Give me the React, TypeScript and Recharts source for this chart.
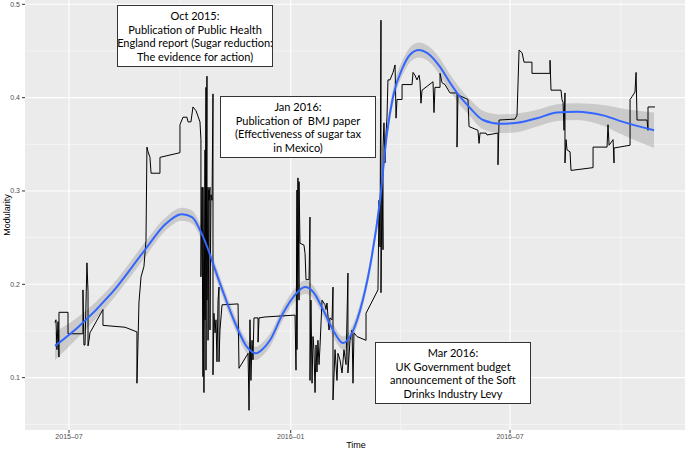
import { ComposedChart, Line, Area, XAxis, YAxis, CartesianGrid } from "recharts";

document.body.style.margin = "0";

// time in days since 2015-07-01, modularity per snapshot
const lineDays = [
  -11.6, -10.8, -10.0, -9.1, -8.3, -8.3, -0.8, -0.8, 11.6, 11.6, 12.4, 13.3, 14.9, 15.8, 15.8, 16.6, 17.4, 28.2, 28.2, 46.5,
  56.4, 56.4, 58.1, 59.8, 62.2, 63.9, 64.7, 65.6, 67.2, 68.1, 75.5, 75.5, 92.1, 92.1, 94.6, 97.9, 98.8, 101.2, 102.9, 105.4, 108.7,
  109.5, 109.5, 110.4, 111.2, 111.2, 112.0, 112.9, 112.9, 113.7, 113.7, 114.5, 114.5, 115.4, 115.4, 116.2, 116.2, 117.0, 117.0, 117.8, 118.7,
  119.5, 119.5, 120.3, 121.2, 122.0, 122.8, 123.7, 124.5, 124.5, 125.3, 127.0, 140.3, 141.1, 148.6, 149.4, 150.2, 151.0, 151.9, 152.7, 153.5,
  156.9, 156.9, 157.7, 162.7, 187.6,
  188.4, 189.2, 189.2, 190.0, 190.9, 190.9, 191.7, 195.0, 195.9, 196.7, 199.2, 200.0, 200.0, 200.8, 201.7, 202.5, 203.3, 204.2, 205.0, 205.8,
  206.6, 207.5, 208.3, 210.0, 212.5, 213.3, 214.1, 215.8, 216.6, 218.3, 219.1, 219.1, 220.8, 222.4, 223.2, 224.9, 226.6, 228.2, 229.9, 231.5,
  231.5, 233.2, 234.9, 235.7, 236.5, 239.0, 246.5, 246.5, 256.4,
  257.3, 258.1, 258.9, 258.9, 259.8, 260.6, 260.6, 261.4, 262.2, 263.1, 263.9, 264.7, 266.4, 268.9, 270.6, 271.4, 272.2, 276.4, 276.4, 284.7,
  285.5, 287.1, 288.8, 290.5, 291.3, 292.1, 293.0, 302.1, 302.9, 303.7, 307.9, 307.9, 309.6, 312.0, 316.2, 322.0, 322.0, 322.8, 331.1, 332.0,
  339.4, 340.3, 341.1, 346.1, 346.9, 356.0, 356.0, 356.9, 370.1, 371.8, 373.5, 376.0, 377.6, 384.2, 384.2, 399.2, 399.2, 400.0, 408.3, 409.1,
  410.0, 410.8, 411.6, 411.6, 412.5, 413.3, 415.8, 416.6, 434.9, 434.9, 446.5, 447.3, 448.2, 451.5, 452.3, 452.3, 465.6, 465.6, 467.2, 469.7,
  470.6, 471.4, 479.7, 480.5, 480.5, 486.3,
];

const modularity = [
  0.159, 0.162, 0.130, 0.160, 0.122, 0.170, 0.170, 0.147, 0.147, 0.194, 0.135, 0.135, 0.223, 0.192, 0.134, 0.140, 0.148, 0.173, 0.156, 0.154,
  0.149, 0.094, 0.181, 0.208, 0.219, 0.247, 0.347, 0.342, 0.336, 0.319, 0.319, 0.336, 0.341, 0.371, 0.379, 0.379, 0.374, 0.374, 0.390, 0.386, 0.374,
  0.355, 0.208, 0.304, 0.101, 0.304, 0.084, 0.344, 0.162, 0.411, 0.108, 0.423, 0.183, 0.304, 0.140, 0.301, 0.290, 0.304, 0.151, 0.296, 0.290,
  0.404, 0.103, 0.169, 0.148, 0.162, 0.117, 0.183, 0.197, 0.117, 0.151, 0.178, 0.179, 0.110, 0.126, 0.065, 0.162, 0.097, 0.140, 0.119, 0.164,
  0.164, 0.138, 0.164, 0.165, 0.167,
  0.108, 0.301, 0.130, 0.314, 0.183, 0.310, 0.244, 0.242, 0.233, 0.205, 0.205, 0.272, 0.097, 0.183, 0.094, 0.144, 0.130, 0.084, 0.135, 0.106,
  0.140, 0.114, 0.133, 0.183, 0.178, 0.173, 0.180, 0.151, 0.164, 0.162, 0.197, 0.076, 0.130, 0.097, 0.126, 0.119, 0.105, 0.130, 0.114, 0.212,
  0.105, 0.140, 0.151, 0.094, 0.148, 0.144, 0.140, 0.169, 0.194,
  0.290, 0.240, 0.483, 0.191, 0.312, 0.237, 0.347, 0.373, 0.330, 0.362, 0.379, 0.419, 0.419, 0.427, 0.435, 0.378, 0.398, 0.398, 0.414, 0.414,
  0.427, 0.424, 0.419, 0.424, 0.417, 0.394, 0.408, 0.417, 0.384, 0.411, 0.411, 0.426, 0.416, 0.414, 0.405, 0.405, 0.347, 0.403, 0.398, 0.369,
  0.365, 0.351, 0.362, 0.362, 0.360, 0.362, 0.328, 0.376, 0.377, 0.381, 0.451, 0.448, 0.438, 0.438, 0.426, 0.426, 0.440, 0.408, 0.408, 0.398,
  0.395, 0.365, 0.405, 0.330, 0.355, 0.344, 0.342, 0.322, 0.325, 0.347, 0.347, 0.371, 0.349, 0.355, 0.330, 0.346, 0.349, 0.398, 0.401, 0.406,
  0.427, 0.376, 0.376, 0.365, 0.390, 0.390,
];

// loess smoother and its standard error
const smoothDays = [
  -11.6, 7.5, 35.7, 63.1, 79.7, 93.8, 102.1, 111.2, 125.3, 136.1, 147.7, 155.2, 160.2, 166.8, 177.6, 189.2, 195.9, 202.5, 210.8, 219.1,
  227.4, 233.2, 241.5, 249.8, 258.1, 263.9, 268.9, 277.2, 283.0, 290.5, 297.1, 307.9, 316.2, 324.5, 332.8, 343.6, 357.7, 371.8, 388.4, 405.0,
  421.6, 443.2, 459.8, 485.5,
];
const smoothValues = [
  0.134, 0.154, 0.191, 0.237, 0.264, 0.275, 0.272, 0.251, 0.201, 0.164, 0.133, 0.126, 0.130, 0.140, 0.169, 0.191, 0.197, 0.192, 0.173, 0.151,
  0.137, 0.144, 0.172, 0.219, 0.290, 0.362, 0.401, 0.433, 0.446, 0.451, 0.448, 0.433, 0.416, 0.401, 0.389, 0.376, 0.372, 0.373, 0.378, 0.384,
  0.385, 0.381, 0.374, 0.365,
];
const smoothSe = [
  0.015, 0.011, 0.008, 0.008, 0.007, 0.007, 0.007, 0.007, 0.007, 0.007, 0.007, 0.007, 0.007, 0.007, 0.007, 0.007, 0.007, 0.007, 0.007, 0.007,
  0.007, 0.007, 0.007, 0.007, 0.007, 0.007, 0.008, 0.008, 0.008, 0.008, 0.008, 0.009, 0.009, 0.009, 0.009, 0.010, 0.010, 0.010, 0.009, 0.009,
  0.009, 0.011, 0.014, 0.019,
];

const xTicks = [0, 184, 366];
const xTickLabels = ["2015\u201307", "2016\u201301", "2016\u201307"];
const xMinor = [92, 275, 458];
const yTicks = [0.1, 0.2, 0.3, 0.4, 0.5];
const yMinor = [0.05, 0.15, 0.25, 0.35, 0.45];

const annotations = [
  { left: 117, top: 5, width: 156, height: 62, lines: ["Oct 2015:", "Publication of Public Health", "England report (Sugar reduction:", "The evidence for action)"] },
  { left: 220, top: 96, width: 156, height: 62, lines: ["Jan 2016:", "Publication of  BMJ paper", "(Effectiveness of sugar tax", "in Mexico)"] },
  { left: 375, top: 342, width: 156, height: 62, lines: ["Mar 2016:", "UK Government budget", "announcement of the Soft", "Drinks Industry Levy"] },
];

const lineData = lineDays.map((d, i) => ({ d, v: modularity[i] }));
const smoothData = smoothDays.map((d, i) => ({
  d,
  fit: smoothValues[i],
  band: [smoothValues[i] - smoothSe[i], smoothValues[i] + smoothSe[i]],
}));

const tickStyle = { fontSize: 7, fill: "#4d4d4d", fontFamily: "Liberation Sans, Arial, sans-serif" };

export default function App() {
  return (
    <div style={{ position: "relative", width: 685, height: 451, background: "#fff" }}>
      <ComposedChart width={685} height={451} margin={{ top: 0, right: 0, bottom: 0, left: 0 }}>
        <CartesianGrid
          fill="#ebebeb"
          stroke="#ffffff"
          strokeWidth={0.5}
          horizontalValues={yMinor}
          verticalValues={xMinor}
        />
        <CartesianGrid
          fill="none"
          stroke="#ffffff"
          strokeWidth={1.1}
          horizontalValues={yTicks}
          verticalValues={xTicks}
        />
        <XAxis
          type="number"
          dataKey="d"
          domain={[-36.5, 511.2]}
          allowDataOverflow
          ticks={xTicks}
          tickFormatter={(t) => xTickLabels[xTicks.indexOf(t)] ?? ""}
          height={21}
          tickSize={3}
          tickMargin={1}
          axisLine={false}
          tickLine={{ stroke: "#333" }}
          tick={tickStyle}
        />
        <YAxis
          type="number"
          domain={[0.0439, 0.5046]}
          allowDataOverflow
          ticks={yTicks}
          tickFormatter={(t) => String(t)}
          width={25}
          tickSize={3}
          tickMargin={2}
          axisLine={false}
          tickLine={{ stroke: "#333" }}
          tick={tickStyle}
        />
        <Line
          data={lineData}
          dataKey="v"
          type="linear"
          stroke="#000"
          strokeWidth={1}
          dot={false}
          isAnimationActive={false}
        />
        <Area
          data={smoothData}
          dataKey="band"
          type="monotone"
          stroke="none"
          fill="#999999"
          fillOpacity={0.4}
          isAnimationActive={false}
        />
        <Line
          data={smoothData}
          dataKey="fit"
          type="monotone"
          stroke="#3366ff"
          strokeWidth={2}
          dot={false}
          isAnimationActive={false}
        />
      </ComposedChart>

      <div
        style={{
          position: "absolute",
          left: 356,
          top: 440,
          transform: "translateX(-50%)",
          fontSize: 9,
          fontFamily: "Liberation Sans, Arial, sans-serif",
          color: "#000",
          whiteSpace: "nowrap",
        }}
      >
        Time
      </div>
      <div
        style={{
          position: "absolute",
          left: 7,
          top: 215,
          transform: "translate(-50%, -50%) rotate(-90deg)",
          fontSize: 9,
          fontFamily: "Liberation Sans, Arial, sans-serif",
          color: "#000",
          whiteSpace: "nowrap",
        }}
      >
        Modularity
      </div>

      {annotations.map((a) => (
        <div
          key={a.lines[0]}
          style={{
            position: "absolute",
            left: a.left,
            top: a.top,
            width: a.width,
            height: a.height,
            boxSizing: "border-box",
            border: "1px solid #333",
            background: "#fff",
            display: "flex",
            flexDirection: "column",
            justifyContent: "center",
            alignItems: "center",
            fontFamily: "Lato, sans-serif",
            fontSize: 11,
            lineHeight: "13.5px",
            color: "#000",
            whiteSpace: "pre",
          }}
        >
          {a.lines.map((l) => (
            <div key={l}>{l}</div>
          ))}
        </div>
      ))}
    </div>
  );
}
